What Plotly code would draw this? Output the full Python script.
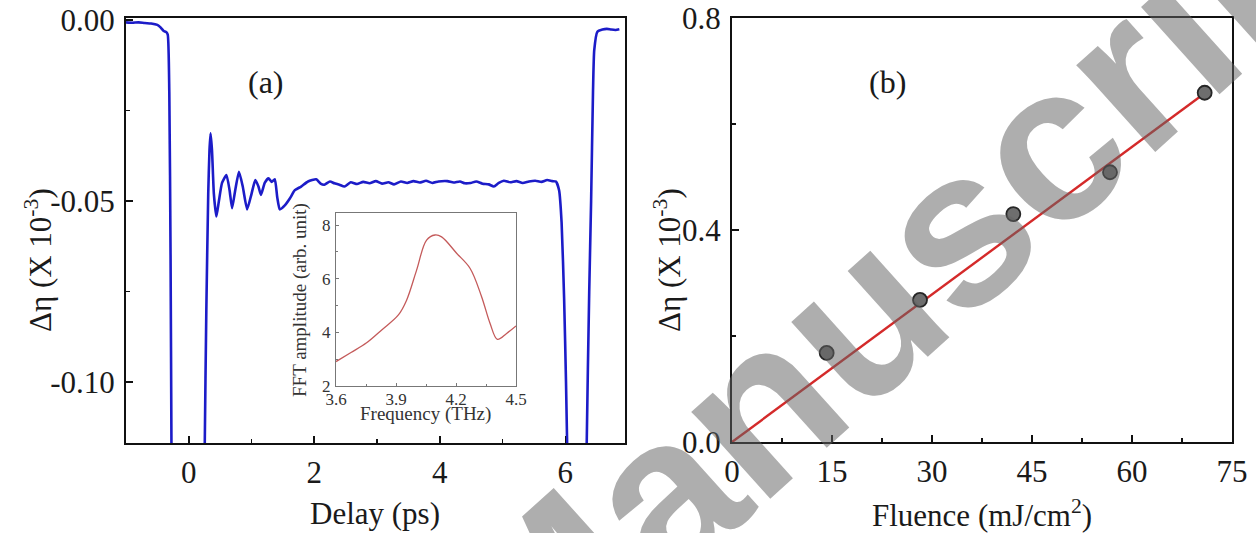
import plotly.graph_objects as go

# ---------------- data ----------------
# Panel (a): transient signal vs delay
delay_ps = [-1.00, -0.90, -0.80, -0.70, -0.60, -0.50, -0.45, -0.40, -0.36, -0.335, -0.31, -0.29, -0.276, -0.25,
            0.00, 0.22, 0.255, 0.28, 0.31, 0.33, 0.347, 0.37, 0.40, 0.44, 0.48, 0.53, 0.60, 0.65, 0.69,
            0.74, 0.80, 0.86, 0.93, 1.00, 1.06, 1.11, 1.15, 1.21, 1.27, 1.32, 1.37, 1.41, 1.45, 1.53,
            1.61, 1.69, 1.79, 1.90, 2.03, 2.10, 2.16, 2.25, 2.32, 2.40, 2.48, 2.58, 2.68, 2.78, 2.88,
            2.98, 3.08, 3.18, 3.27, 3.38, 3.48, 3.58, 3.68, 3.78, 3.88, 3.98, 4.12, 4.22, 4.32, 4.40,
            4.49, 4.58, 4.68, 4.78, 4.86, 4.94, 5.02, 5.12, 5.22, 5.32, 5.42, 5.52, 5.62, 5.71, 5.79,
            5.85, 5.90, 5.94, 5.98, 6.01, 6.04, 6.07, 6.20, 6.30, 6.34, 6.38, 6.41, 6.44, 6.46, 6.51,
            6.59, 6.66, 6.73, 6.80, 6.86]
delta_eta_a = [-0.0006, -0.0007, -0.0006, -0.0008, -0.0009, -0.0013, -0.0020, -0.0030, -0.0033, -0.0040,
               -0.0200, -0.0650, -0.1170, -0.2000,
               -0.2500, -0.2000, -0.1170, -0.0800, -0.0480, -0.0360, -0.0313, -0.0360, -0.0480, -0.0543,
               -0.0500, -0.0450, -0.0428, -0.0470, -0.0520, -0.0470, -0.0419, -0.0460, -0.0523, -0.0480,
               -0.0442, -0.0460, -0.0483, -0.0450, -0.0437, -0.0447, -0.0440, -0.0490, -0.0523, -0.0512,
               -0.0493, -0.0470, -0.0460, -0.0446, -0.0440, -0.0452, -0.0455, -0.0446, -0.0451, -0.0455,
               -0.0460, -0.0448, -0.0453, -0.0447, -0.0451, -0.0445, -0.0452, -0.0448, -0.0454, -0.0446,
               -0.0450, -0.0445, -0.0449, -0.0444, -0.0450, -0.0446, -0.0445, -0.0449, -0.0446, -0.0451,
               -0.0450, -0.0446, -0.0452, -0.0454, -0.0460, -0.0450, -0.0444, -0.0448, -0.0445, -0.0450,
               -0.0446, -0.0444, -0.0447, -0.0442, -0.0445,
               -0.0446, -0.0470, -0.0560, -0.0770, -0.1000, -0.1300, -0.2000, -0.2500, -0.2000, -0.1170,
               -0.0750, -0.0500, -0.0200, -0.0083, -0.0032, -0.0026, -0.0024, -0.0026, -0.0027, -0.0025]

# Inset: FFT amplitude vs frequency
freq_thz = [3.60, 3.675, 3.753, 3.83, 3.912, 3.953, 4.003, 4.053, 4.095, 4.128, 4.203, 4.27, 4.328,
            4.37, 4.407, 4.453, 4.50]
fft_amp = [2.91, 3.25, 3.61, 4.10, 4.65, 5.20, 6.32, 7.44, 7.63, 7.56, 6.95, 6.39, 5.33, 4.34, 3.74,
           3.96, 4.24]

# Panel (b): amplitude vs fluence
fluence = [14.2, 28.2, 42.2, 56.7, 70.9]
delta_eta_b = [0.168, 0.268, 0.430, 0.509, 0.659]
fit_fluence = [0.0, 70.9]
fit_delta_eta = [0.0, 0.658]

# tick labels
a_xticks = [0, 2, 4, 6]
a_yticks = [0.00, -0.05, -0.10]
a_yticklabels = ["0.00", "-0.05", "-0.10"]
b_xticks = [0, 15, 30, 45, 60, 75]
b_yticks = [0.0, 0.4, 0.8]
b_yticklabels = ["0.0", "0.4", "0.8"]
in_xticks = [3.6, 3.9, 4.2, 4.5]
in_yticks = [2, 4, 6, 8]

# ---------------- figure ----------------
W, H = 1256, 533
SERIF = "Liberation Serif, Times New Roman, serif"

def px_x(p):
    return p / W

def px_y(p):
    return 1 - p / H

fig = go.Figure()

fig.add_trace(go.Scatter(x=delay_ps, y=delta_eta_a, mode="lines",
                         line=dict(color="#1c1cc8", width=2.6, shape="spline", smoothing=0.5),
                         xaxis="x", yaxis="y", showlegend=False, hoverinfo="skip"))
fig.add_trace(go.Scatter(x=freq_thz, y=fft_amp, mode="lines",
                         line=dict(color="#c45a5a", width=1.3, shape="spline"),
                         xaxis="x3", yaxis="y3", showlegend=False, hoverinfo="skip"))
fig.add_trace(go.Scatter(x=fit_fluence, y=fit_delta_eta, mode="lines", line=dict(color="#d42a2a", width=2.4),
                         xaxis="x2", yaxis="y2", showlegend=False, hoverinfo="skip"))
fig.add_trace(go.Scatter(x=fluence, y=delta_eta_b, mode="markers",
                         marker=dict(size=14, color="#6e6e6e", line=dict(color="#262626", width=1.8)),
                         xaxis="x2", yaxis="y2", showlegend=False, hoverinfo="skip"))

tickfont = dict(family=SERIF, size=31, color="#1a1a1a")
frame = dict(showline=True, linewidth=2, linecolor="#111111", mirror=True, showgrid=False, zeroline=False,
             ticks="inside", tickwidth=1.6, tickcolor="#111111", ticklen=7, tickfont=tickfont,
             automargin=False)
inset_frame = dict(showline=True, linewidth=1, linecolor="#777777", mirror=True, showgrid=False,
                   zeroline=False, ticks="inside", ticklen=3, tickcolor="#777777", automargin=False,
                   tickfont=dict(family=SERIF, size=17, color="#333333"))

fig.update_layout(
    width=W, height=H, margin=dict(l=0, r=0, t=0, b=0, pad=0, autoexpand=False),
    paper_bgcolor="white", plot_bgcolor="rgba(0,0,0,0)",
    xaxis=dict(domain=[px_x(126), px_x(625)], range=[-1, 6.95], anchor="y", tickvals=a_xticks,
               minor=dict(tickvals=[-1, 1, 3, 5], ticks="inside", ticklen=4, tickcolor="#111111"),
               ticklabelstandoff=1, **frame),
    yaxis=dict(domain=[px_y(443), px_y(18)], range=[-0.1169, 0.0006], anchor="x", tickvals=a_yticks,
               ticktext=a_yticklabels,
               minor=dict(tickvals=[-0.025, -0.075], ticks="inside", ticklen=4, tickcolor="#111111"),
               ticklabelstandoff=3, **frame),
    xaxis2=dict(domain=[px_x(732), px_x(1232)], range=[0, 75], anchor="y2", tickvals=b_xticks,
                minor=dict(tickvals=[7.5, 22.5, 37.5, 52.5, 67.5], ticks="inside", ticklen=4,
                           tickcolor="#111111"),
                ticklabelstandoff=1, **frame),
    yaxis2=dict(domain=[px_y(442), px_y(18)], range=[0, 0.8], anchor="x2", tickvals=b_yticks,
                ticktext=b_yticklabels,
                minor=dict(tickvals=[0.2, 0.6], ticks="inside", ticklen=4, tickcolor="#111111"),
                ticklabelstandoff=3, **frame),
    xaxis3=dict(domain=[px_x(336), px_x(516)], range=[3.6, 4.5], anchor="y3", tickvals=in_xticks,
                minor=dict(tickvals=[3.75, 4.05, 4.35], ticks="inside", ticklen=2, tickcolor="#777777"),
                ticklabelstandoff=-2, **inset_frame),
    yaxis3=dict(domain=[px_y(386), px_y(213)], range=[2, 8.45], anchor="x3", tickvals=in_yticks,
                minor=dict(tickvals=[3, 5, 7], ticks="inside", ticklen=2, tickcolor="#777777"),
                ticklabelstandoff=1, **inset_frame),
)

titlefont = dict(family=SERIF, size=31, color="#1a1a1a")
ann = [
    dict(text="Delay (ps)", x=px_x(375), y=px_y(513), xref="paper", yref="paper", showarrow=False,
         xanchor="center", yanchor="middle", font=titlefont),
    dict(text="Fluence (mJ/cm<sup>2</sup>)", x=px_x(982), y=px_y(513), xref="paper", yref="paper",
         showarrow=False, xanchor="center", yanchor="middle", font=titlefont),
    dict(text="Δη (X 10<sup>-3</sup>)", x=px_x(38), y=px_y(260), xref="paper", yref="paper",
         showarrow=False, textangle=-90, xanchor="center", yanchor="middle", font=titlefont),
    dict(text="Δη (X 10<sup>-3</sup>)", x=px_x(667), y=px_y(260), xref="paper", yref="paper",
         showarrow=False, textangle=-90, xanchor="center", yanchor="middle", font=titlefont),
    dict(text="(a)", x=px_x(266), y=px_y(82), xref="paper", yref="paper", showarrow=False,
         xanchor="center", yanchor="middle", font=dict(family=SERIF, size=32, color="#1a1a1a")),
    dict(text="(b)", x=px_x(887), y=px_y(82), xref="paper", yref="paper", showarrow=False,
         xanchor="center", yanchor="middle", font=dict(family=SERIF, size=32, color="#1a1a1a")),
    dict(text="Frequency (THz)", x=px_x(425), y=px_y(414), xref="paper", yref="paper", showarrow=False,
         xanchor="center", yanchor="middle", font=dict(family=SERIF, size=19, color="#333333")),
    dict(text="FFT amplitude (arb. unit)", x=px_x(300), y=px_y(300), xref="paper", yref="paper",
         showarrow=False, textangle=-90, xanchor="center", yanchor="middle",
         font=dict(family=SERIF, size=19, color="#333333")),
    # watermark
    dict(text="<b>Manuscript</b>", x=px_x(918), y=px_y(262), xref="paper", yref="paper", showarrow=False,
         textangle=-42, xanchor="center", yanchor="middle",
         font=dict(family="Liberation Sans", size=222, color="rgba(100,100,100,0.52)")),
]
fig.update_layout(annotations=ann)

fig.write_html("out.html", config={"displayModeBar": False, "staticPlot": True},
               post_script="document.body.style.margin='0';document.body.style.overflow='hidden';")
